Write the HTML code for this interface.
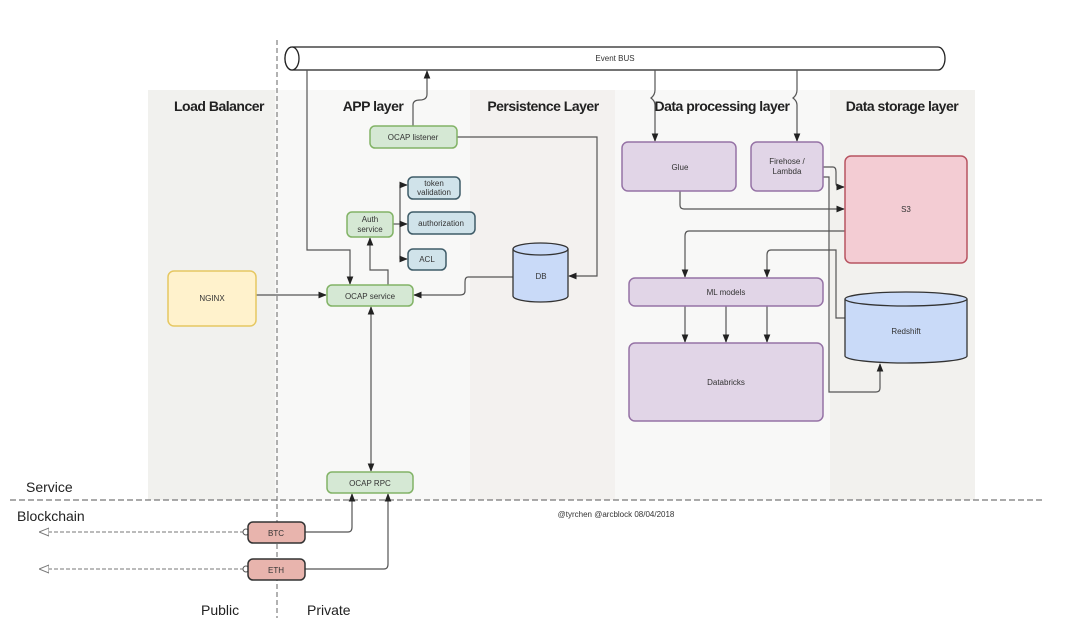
<!DOCTYPE html>
<html><head><meta charset="utf-8"><style>
html,body{margin:0;padding:0;background:#fff;}
svg{display:block;font-family:"Liberation Sans",sans-serif;}
.h{font-family:"Liberation Sans",sans-serif;font-weight:bold;font-size:14px;fill:#222;text-anchor:middle;letter-spacing:-0.5px}
.t{font-size:8px;fill:#333;text-anchor:middle}
.c{fill:none;stroke:#555;stroke-width:1.2}
</style></head><body>
<svg width="1080" height="632" viewBox="0 0 1080 632">
<defs>
<marker id="a" viewBox="0 0 10 10" refX="9" refY="5" markerWidth="7" markerHeight="7" orient="auto-start-reverse"><path d="M0,1 L10,5 L0,9 z" fill="#222"/></marker>
<marker id="o" viewBox="0 0 10 10" refX="9" refY="5" markerWidth="10" markerHeight="10" orient="auto-start-reverse"><path d="M0,1 L10,5 L0,9 z" fill="#fff" stroke="#777"/></marker>
</defs>
<!-- layer backgrounds -->
<rect x="148" y="90" width="127" height="410" fill="#f1f1ee"/>
<rect x="275" y="90" width="195" height="410" fill="#f8f8f7"/>
<rect x="470" y="90" width="145" height="410" fill="#f3f1ef"/>
<rect x="615" y="90" width="215" height="410" fill="#f8f8f7"/>
<rect x="830" y="90" width="145" height="410" fill="#f2f1ee"/>
<text class="h" x="219" y="111">Load Balancer</text>
<text class="h" x="373" y="111">APP layer</text>
<text class="h" x="543" y="111">Persistence Layer</text>
<text class="h" x="722" y="111">Data processing layer</text>
<text class="h" x="902" y="111">Data storage layer</text>
<!-- dashed lines -->
<line x1="277" y1="40" x2="277" y2="618" stroke="#666" stroke-dasharray="5,3"/>
<line x1="10" y1="500" x2="1045" y2="500" stroke="#777" stroke-width="1.2" stroke-dasharray="6,3"/>
<text x="26" y="492" font-size="14" fill="#222">Service</text>
<text x="17" y="521" font-size="14" fill="#222">Blockchain</text>
<text x="201" y="615" font-size="14" fill="#222">Public</text>
<text x="307" y="615" font-size="14" fill="#222">Private</text>
<text x="616" y="517" class="t">@tyrchen @arcblock 08/04/2018</text>
<!-- event bus -->
<path d="M292,47 L938,47 A7,11.5 0 0 1 938,70 L292,70 A7,11.5 0 0 1 292,47 z" fill="#fff" stroke="#222" stroke-width="1.3"/>
<ellipse cx="292" cy="58.5" rx="7" ry="11.5" fill="#fff" stroke="#222" stroke-width="1.3"/>
<text class="t" x="615" y="61">Event BUS</text>
<!-- connectors -->
<path class="c" d="M307,70 V250 H350 V284" marker-end="url(#a)"/>
<path class="c" d="M413,126 V105 Q413,100 420,100 Q427,100 427,94 V71" marker-end="url(#a)"/>
<path class="c" d="M457,137 H597 V276 H569" marker-end="url(#a)"/>
<path class="c" d="M388,285 V270 H370 V238" marker-end="url(#a)"/>
<path class="c" d="M393,224 H400"/>
<path class="c" d="M400,185 V259"/>
<path class="c" d="M400,185 H407" marker-end="url(#a)"/>
<path class="c" d="M400,224 H407" marker-end="url(#a)"/>
<path class="c" d="M400,259 H407" marker-end="url(#a)"/>
<path class="c" d="M256,295 H326" stroke="#222" stroke-width="1.5" marker-end="url(#a)"/>
<path class="c" d="M513,277 H468 Q465,277 465,282 V291 Q465,295 460,295 H414" marker-end="url(#a)"/>
<path class="c" d="M371,307 V471" marker-start="url(#a)" marker-end="url(#a)"/>
<path class="c" d="M305,532 H348 Q352,532 352,527 V494" marker-end="url(#a)"/>
<path class="c" d="M305,569 H384 Q388,569 388,564 V494" marker-end="url(#a)"/>
<path d="M244,532 H40" stroke="#777" stroke-dasharray="4,2" marker-end="url(#o)"/>
<path d="M244,569 H40" stroke="#777" stroke-dasharray="4,2" marker-end="url(#o)"/>
<circle cx="246" cy="532" r="3" fill="#fff" stroke="#555"/>
<circle cx="246" cy="569" r="3" fill="#fff" stroke="#555"/>
<path class="c" d="M655,70 V90 Q655,95 651,98 Q655,101 655,105 V141" marker-end="url(#a)"/>
<path class="c" d="M797,70 V90 Q797,95 793,98 Q797,101 797,105 V141" marker-end="url(#a)"/>
<path class="c" d="M823,167 H833 Q836,167 836,172 V183 Q836,187 840,187 H844" marker-end="url(#a)"/>
<path class="c" d="M823,177 H829 V392 H876 Q880,392 880,388 V364" marker-end="url(#a)"/>
<path class="c" d="M680,191 V205 Q680,209 684,209 H844" marker-end="url(#a)"/>
<path class="c" d="M845,231 H689 Q685,231 685,236 V277" marker-end="url(#a)"/>
<path class="c" d="M845,318 H836 V250 H771 Q767,250 767,255 V277" marker-end="url(#a)"/>
<path class="c" d="M685,306 V342" marker-end="url(#a)"/>
<path class="c" d="M726,306 V342" marker-end="url(#a)"/>
<path class="c" d="M767,306 V342" marker-end="url(#a)"/>
<!-- nodes -->
<rect x="168" y="271" width="88" height="55" rx="6" fill="#fff2cc" stroke="#e6c862" stroke-width="1.5"/>
<text class="t" x="212" y="301">NGINX</text>
<g fill="#d5e8d4" stroke="#82b366" stroke-width="1.5">
<rect x="370" y="126" width="87" height="22" rx="5"/>
<rect x="347" y="212" width="46" height="25" rx="5"/>
<rect x="327" y="285" width="86" height="21" rx="5"/>
<rect x="327" y="472" width="86" height="21" rx="5"/>
</g>
<text class="t" x="413" y="140">OCAP listener</text>
<text class="t" x="370" y="222">Auth</text><text class="t" x="370" y="232">service</text>
<text class="t" x="370" y="299">OCAP service</text>
<text class="t" x="370" y="486">OCAP RPC</text>
<g fill="#d0e3ea" stroke="#3f5c68" stroke-width="1.5">
<rect x="408" y="177" width="52" height="22" rx="5"/>
<rect x="408" y="212" width="67" height="22" rx="5"/>
<rect x="408" y="249" width="38" height="21" rx="5"/>
</g>
<text class="t" x="434" y="186">token</text><text class="t" x="434" y="195">validation</text>
<text class="t" x="441" y="226">authorization</text>
<text class="t" x="427" y="262">ACL</text>
<!-- DB -->
<path d="M513,249 V296 A27.5,6 0 0 0 568,296 V249" fill="#c9daf8" stroke="#333" stroke-width="1.3"/>
<ellipse cx="540.5" cy="249" rx="27.5" ry="6" fill="#c9daf8" stroke="#333" stroke-width="1.3"/>
<text class="t" x="541" y="279">DB</text>
<g fill="#e1d5e7" stroke="#9673a6" stroke-width="1.5">
<rect x="622" y="142" width="114" height="49" rx="6"/>
<rect x="751" y="142" width="72" height="49" rx="6"/>
<rect x="629" y="278" width="194" height="28" rx="6"/>
<rect x="629" y="343" width="194" height="78" rx="6"/>
</g>
<text class="t" x="680" y="170">Glue</text>
<text class="t" x="787" y="164">Firehose /</text><text class="t" x="787" y="174">Lambda</text>
<text class="t" x="726" y="295">ML models</text>
<text class="t" x="726" y="385">Databricks</text>
<rect x="845" y="156" width="122" height="107" rx="6" fill="#f3ccd3" stroke="#b85461" stroke-width="1.5"/>
<text class="t" x="906" y="212">S3</text>
<path d="M845,299 V356 A61,7 0 0 0 967,356 V299" fill="#c9daf8" stroke="#333" stroke-width="1.3"/>
<ellipse cx="906" cy="299" rx="61" ry="7" fill="#c9daf8" stroke="#333" stroke-width="1.3"/>
<text class="t" x="906" y="334">Redshift</text>
<g fill="#e8b4ad" stroke="#333" stroke-width="1.5">
<rect x="248" y="522" width="57" height="21" rx="5"/>
<rect x="248" y="559" width="57" height="21" rx="5"/>
</g>
<text class="t" x="276" y="536" fill="#5a3a6a">BTC</text>
<text class="t" x="276" y="573">ETH</text>
</svg>
</body></html>
